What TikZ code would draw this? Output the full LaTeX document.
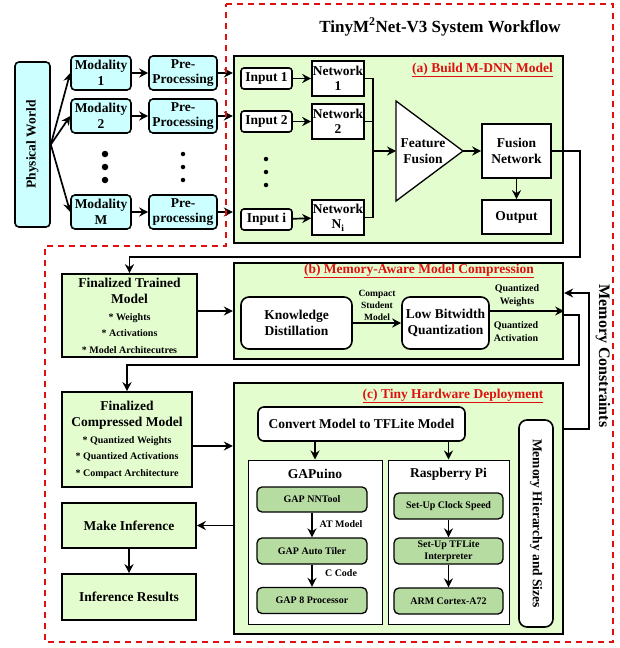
\documentclass[tikz,border=0pt]{standalone}
\usepackage{fontspec}
\setmainfont{Liberation Serif}
\usetikzlibrary{arrows.meta,calc}
\definecolor{cyanfill}{HTML}{CCFFFF}
\definecolor{lgreen}{HTML}{E3FDCF}
\definecolor{mgreen}{HTML}{B7DCA2}
\definecolor{dred}{HTML}{E01010}
\tikzset{
 base/.style={draw, line width=1.6pt, align=center, inner sep=0pt, font=\bfseries\fontsize{13.5}{15.5}\selectfont},
 cyanbox/.style={base, fill=cyanfill, rounded corners=4pt},
 whitebox/.style={base, fill=white},
 roundwhite/.style={base, fill=white, rounded corners=8pt},
 greenbox/.style={base, fill=lgreen},
 block/.style={draw, line width=2.3pt, fill=lgreen, inner sep=0pt},
 midbox/.style={base, fill=mgreen, rounded corners=5pt, line width=1.3pt, font=\bfseries\fontsize{10}{12.5}\selectfont},
 platform/.style={draw, line width=1pt, fill=white, inner sep=0pt},
 arr/.style={line width=1.7pt, -{Stealth[length=9pt,width=9pt]}},
 ln/.style={line width=1.7pt},
 txt/.style={align=center, inner sep=0pt, font=\bfseries\fontsize{13.5}{15.5}\selectfont},
 smalltxt/.style={align=center, inner sep=0pt, font=\bfseries\fontsize{10}{13}\selectfont},
 redtitle/.style={inner sep=0pt, text=dred, font=\bfseries\fontsize{13.5}{15.5}\selectfont},
 bigdot/.style={circle, fill=black, inner sep=0pt, minimum size=#1},
}
\begin{document}
\begin{tikzpicture}[x=1pt,y=-1pt]
\useasboundingbox (0,0) rectangle (619,648);

% title
\node[font=\bfseries\fontsize{17}{20}\selectfont, inner sep=0pt] (title) at (440,27) {TinyM\textsuperscript{2}Net-V3 System Workflow};

% left part
\node[cyanbox, minimum width=165pt, minimum height=35pt, rotate=90] (phys) at (32.5,144.5) {Physical World};
\node[cyanbox, minimum width=60pt, minimum height=34pt] (mod1) at (101,73) {Modality\\1};
\node[cyanbox, minimum width=60pt, minimum height=34pt] (mod2) at (101,116) {Modality\\2};
\node[cyanbox, minimum width=60pt, minimum height=34pt] (modM) at (101,212) {Modality\\M};
\node[cyanbox, minimum width=68pt, minimum height=34pt] (pre1) at (183,73) {Pre-\\Processing};
\node[cyanbox, minimum width=68pt, minimum height=34pt] (pre2) at (183,116) {Pre-\\Processing};
\node[cyanbox, minimum width=68pt, minimum height=34pt] (preM) at (183,212) {Pre-\\processing};
\node[bigdot=6.5pt] (d1) at (105,154) {};
\node[bigdot=6.5pt] (d2) at (105,167) {};
\node[bigdot=6.5pt] (d3) at (105,180) {};
\node[bigdot=4.5pt] (d4) at (183,154) {};
\node[bigdot=4.5pt] (d5) at (183,167) {};
\node[bigdot=4.5pt] (d6) at (183,180) {};

% block a
\node[block, minimum width=329pt, minimum height=187pt] (blocka) at (398.5,149.5) {};
\node[redtitle, anchor=east] (ta) at (553,70) {\underline{(a) Build M-DNN Model}};
\node[whitebox, rounded corners=3pt, minimum width=51pt, minimum height=21pt] (in1) at (266.5,78.5) {Input 1};
\node[whitebox, rounded corners=3pt, minimum width=51pt, minimum height=21pt] (in2) at (266.5,121.5) {Input 2};
\node[whitebox, rounded corners=3pt, minimum width=51pt, minimum height=21pt] (ini) at (266.5,219.5) {Input i};
\node[bigdot=4.5pt] (d7) at (266,159) {};
\node[bigdot=4.5pt] (d8) at (266,172) {};
\node[bigdot=4.5pt] (d9) at (266,185) {};
\node[whitebox, minimum width=52pt, minimum height=35pt] (net1) at (338,78.5) {Network\\1};
\node[whitebox, minimum width=52pt, minimum height=35pt] (net2) at (338,121.5) {Network\\2};
\node[whitebox, minimum width=52pt, minimum height=35pt] (netN) at (338,217.5) {Network\\N\textsubscript{i}};
\coordinate (bus) at (373,151);
\coordinate (ftop) at (396,101);
\coordinate (fbot) at (396,201);
\coordinate (ffR) at (463,151);
\coordinate (ffL) at (396,151);
\draw[line width=1.3pt, fill=white] (ftop) -- (ffR) -- (fbot) -- cycle;
\node[txt] (ff) at (423,151) {Feature\\Fusion};
\node[whitebox, minimum width=69pt, minimum height=54pt] (fusnet) at (516.5,151) {Fusion\\Network};
\node[whitebox, minimum width=69pt, minimum height=34pt] (out) at (516.5,217) {Output};

\draw[arr] (in1) -- (net1);
\draw[arr] (in2) -- (net2);
\draw[arr] (ini) -- (netN);
\draw[ln] (net1.east) -| (bus);
\draw[ln] (net2.east) -| (bus);
\draw[ln] (netN.east) -| (bus);
\draw[arr] (bus) -- (ffL);
\draw[arr] (ffR) -- (fusnet.west);
\draw[arr] (fusnet.south) -- (out.north);

\draw[arr] (phys.south) -- (mod1.west);
\draw[arr] (phys.south) -- (mod2.west);
\draw[arr] (phys.south) -- (modM.west);
\draw[arr] (mod1) -- (pre1);
\draw[arr] (mod2) -- (pre2);
\draw[arr] (modM) -- (preM);
\draw[arr] (pre1.east) -- (pre1.east -| blocka.west);
\draw[arr] (pre2.east) -- (pre2.east -| blocka.west);
\draw[arr] (preM.east) -- (preM.east -| blocka.west);

% finalized trained model
\node[greenbox, minimum width=135pt, minimum height=83pt, font=\bfseries\fontsize{13.5}{16.5}\selectfont] (ftm) at (129.5,315.5)
 {Finalized Trained\\Model\\{\fontsize{10}{16.5}\selectfont * Weights}\\{\fontsize{10}{16.5}\selectfont * Activations}\\{\fontsize{10}{16.5}\selectfont * Model Architecutres}};
\draw[arr] (fusnet.east) -- ++(28,0) |- ($(ftm.north)+(0,-16)$) -- (ftm.north);

% block b
\node[block, minimum width=329pt, minimum height=96pt] (blockb) at (398.5,311) {};
\node[redtitle] (tb) at (419,271) {\underline{(b) Memory-Aware Model Compression}};
\node[roundwhite, minimum width=111pt, minimum height=52pt] (kd) at (296.5,323) {Knowledge\\Distillation};
\node[roundwhite, minimum width=87pt, minimum height=52pt] (lbq) at (445.5,323) {Low Bitwidth\\Quantization};
\draw[arr] (kd) -- (lbq);
\node[smalltxt, font=\bfseries\fontsize{9.5}{12}\selectfont] (csm) at (377,305) {Compact\\Student\\Model};
\draw[arr] (lbq.east |- blockb.east) -- (blockb.east);
\node[smalltxt] (qw) at (517,295.5) {Quantized\\Weights};
\node[smalltxt] (qa) at (516,331.5) {Quantized\\Activation};
\draw[arr] (blockb.west -| ftm.east) -- (blockb.west);

% finalized compressed model
\node[greenbox, minimum width=130pt, minimum height=95pt, font=\bfseries\fontsize{13.5}{16.5}\selectfont] (fcm) at (127,439.5)
 {Finalized\\Compressed Model\\{\fontsize{10}{16.5}\selectfont * Quantized Weights}\\{\fontsize{10}{16.5}\selectfont * Quantized Activations}\\{\fontsize{10}{16.5}\selectfont * Compact Architecture}};
\draw[arr] ([yshift=-4pt]blockb.east) -- ++(15,0) |- ($(fcm.north)+(0,-26)$) -- (fcm.north);

% block c
\node[block, minimum width=329pt, minimum height=251pt] (blockc) at (398.5,508.5) {};
\node[redtitle] (tc) at (453,396) {\underline{(c) Tiny Hardware Deployment}};
\node[roundwhite, rounded corners=6pt, minimum width=207pt, minimum height=34pt] (conv) at (361.5,424) {Convert Model to TFLite Model};
\node[platform, minimum width=134pt, minimum height=164pt] (gap) at (315,542) {};
\node[txt] (gapt) at (315,474) {GAPuino};
\node[platform, minimum width=121pt, minimum height=164pt] (rpi) at (448.5,542) {};
\node[txt] (rpit) at (448.5,474) {Raspberry Pi};
\draw[arr] (conv.south -| gap.north) -- (gap.north);
\draw[arr] (conv.south -| rpi.north) -- (rpi.north);
\node[midbox, minimum width=110pt, minimum height=25pt] (nn) at (312,499.5) {GAP NNTool};
\node[midbox, minimum width=110pt, minimum height=26pt] (tiler) at (312,551) {GAP Auto Tiler};
\node[midbox, minimum width=110pt, minimum height=26pt] (gap8) at (312,600.5) {GAP 8 Processor};
\draw[arr] (nn) -- (tiler);
\draw[arr] (tiler) -- (gap8);
\node[smalltxt] (atm) at (341,524) {AT Model};
\node[smalltxt] (cc) at (341,573) {C Code};
\node[midbox, minimum width=109pt, minimum height=26pt] (clk) at (448.5,506) {Set-Up Clock Speed};
\node[midbox, minimum width=109pt, minimum height=26pt] (tfl) at (448.5,551) {Set-Up TFLite\\Interpreter};
\node[midbox, minimum width=109pt, minimum height=26pt] (arm) at (448.5,601) {ARM Cortex-A72};
\draw[arr] (clk) -- (tfl);
\draw[arr] (tfl) -- (arm);
\node[roundwhite, minimum width=207pt, minimum height=34pt, rotate=-90] (mem) at (536,523.5) {Memory Hierarchy and Sizes};

\draw[arr] ([yshift=-47pt]blockc.north east) -- ++(25,0) |- ([yshift=18pt]blockb.east);
\node[txt, rotate=-90, font=\bfseries\fontsize{16}{18}\selectfont] (mc) at (603,356) {Memory Constraints};

% inference
\node[greenbox, minimum width=134pt, minimum height=45pt] (mi) at (129,525.5) {Make Inference};
\node[greenbox, minimum width=134pt, minimum height=46pt] (ir) at (129,597) {Inference Results};
\draw[arr] (blockc.west |- mi.east) -- (mi.east);
\draw[arr] (mi) -- (ir);
\draw[arr] ([yshift=-6.5pt]fcm.east) -- ([yshift=-6.5pt]fcm.east -| blockc.west);

% red dashed outline
\draw[dred, line width=1.8pt, dash pattern=on 6pt off 5pt] (226,4) -- (613,4) -- (613,642) -- (45,642) -- (45,246) -- (226,246) -- cycle;
\end{tikzpicture}
\end{document}
